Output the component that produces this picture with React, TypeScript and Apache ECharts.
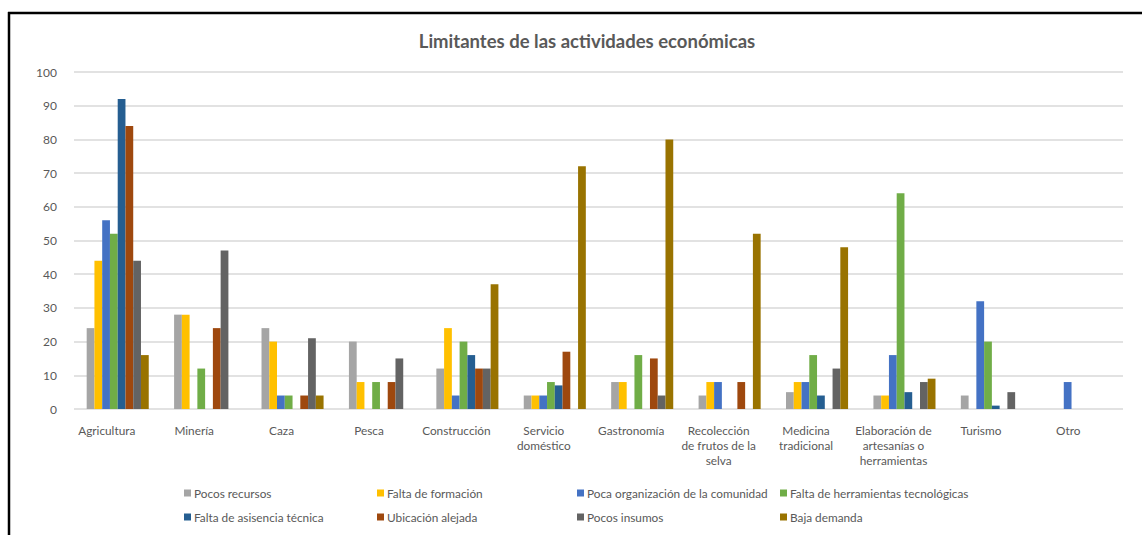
import React, { useEffect, useRef } from "react";
import * as echarts from "echarts";

const title = "Limitantes de las actividades económicas";

const categories = [
  "Agricultura",
  "Minería",
  "Caza",
  "Pesca",
  "Construcción",
  "Servicio\ndoméstico",
  "Gastronomía",
  "Recolección\nde frutos de la\nselva",
  "Medicina\ntradicional",
  "Elaboración de\nartesanías o\nherramientas",
  "Turismo",
  "Otro",
];

const seriesNames = [
  "Pocos recursos",
  "Falta de formación",
  "Poca organización de la comunidad",
  "Falta de herramientas tecnológicas",
  "Falta de asisencia técnica",
  "Ubicación alejada",
  "Pocos insumos",
  "Baja demanda",
];

const seriesColors = [
  "#a5a5a5",
  "#ffc000",
  "#4472c4",
  "#70ad47",
  "#255e91",
  "#9e480e",
  "#636363",
  "#997300",
];

const pocosRecursos = [24, 28, 24, 20, 12, 4, 8, 4, 5, 4, 4, 0];
const faltaFormacion = [44, 28, 20, 8, 24, 4, 8, 8, 8, 4, 0, 0];
const pocaOrganizacion = [56, 0, 4, 0, 4, 4, 0, 8, 8, 16, 32, 8];
const faltaHerramientas = [52, 12, 4, 8, 20, 8, 16, 0, 16, 64, 20, 0];
const faltaAsistencia = [92, 0, 0, 0, 16, 7, 0, 0, 4, 5, 1, 0];
const ubicacionAlejada = [84, 24, 4, 8, 12, 17, 15, 8, 0, 0, 0, 0];
const pocosInsumos = [44, 47, 21, 15, 12, 0, 4, 0, 12, 8, 5, 0];
const bajaDemanda = [16, 0, 4, 0, 37, 72, 80, 52, 48, 9, 0, 0];

const seriesValues = [
  pocosRecursos,
  faltaFormacion,
  pocaOrganizacion,
  faltaHerramientas,
  faltaAsistencia,
  ubicacionAlejada,
  pocosInsumos,
  bajaDemanda,
];

const yTicks = [0, 10, 20, 30, 40, 50, 60, 70, 80, 90, 100];

const legendCols = [184, 377, 577, 780];
const legendRows = [487, 511];

export default function App() {
  const ref = useRef<HTMLDivElement>(null);

  useEffect(() => {
    document.body.style.margin = "0";
    if (!ref.current) return;
    const chart = echarts.init(ref.current, undefined, { renderer: "svg" });
    const font = "Lato, 'Open Sans', sans-serif";
    const textColor = "#595959";

    const legends = seriesNames.map((name, i) => ({
      data: [name],
      left: legendCols[i % 4],
      top: legendRows[Math.floor(i / 4)],
      itemWidth: 7,
      itemHeight: 7,
      itemGap: 3,
      icon: "rect",
      padding: 0,
      textStyle: { color: textColor, fontSize: 11.8, fontFamily: font, padding: [0, 0, 0, -2] },
    }));

    chart.setOption({
      animation: false,
      backgroundColor: "#ffffff",
      title: {
        text: title,
        left: 582,
        textAlign: "center",
        top: 26,
        textStyle: { color: textColor, fontSize: 18.5, fontWeight: "bold", fontFamily: font },
      },
      legend: legends,
      grid: { left: 74, right: 19, top: 72, bottom: 126, containLabel: false },
      xAxis: {
        type: "category",
        data: categories,
        axisLine: { show: false },
        axisTick: { show: false },
        axisLabel: {
          color: textColor,
          fontSize: 11.8,
          fontFamily: font,
          interval: 0,
          margin: 14,
          lineHeight: 15,
          padding: [0, 22, 0, 0],
        },
      },
      yAxis: {
        type: "value",
        min: yTicks[0],
        max: yTicks[yTicks.length - 1],
        interval: 10,
        axisLine: { show: false },
        axisTick: { show: false },
        axisLabel: {
          color: textColor,
          fontSize: 12,
          fontFamily: font,
          margin: 17,
          padding: [10, 0, 0, 0],
        },
        splitLine: { lineStyle: { color: "#d9d9d9", width: 1.5 } },
      },
      series: seriesNames.map((name, i) => ({
        name,
        type: "bar",
        data: seriesValues[i],
        barGap: "0%",
        barCategoryGap: "29%",
        itemStyle: { color: seriesColors[i] },
      })),
      graphic: [
        {
          type: "line",
          shape: { x1: 9, y1: 12, x2: 9, y2: 535 },
          style: { stroke: "#000", lineWidth: 2.5 },
        },
        {
          type: "line",
          shape: { x1: 8, y1: 13, x2: 1142, y2: 13 },
          style: { stroke: "#000", lineWidth: 2.5 },
        },
      ],
    });

    return () => chart.dispose();
  }, []);

  return <div ref={ref} style={{ width: 1142, height: 535 }} />;
}
